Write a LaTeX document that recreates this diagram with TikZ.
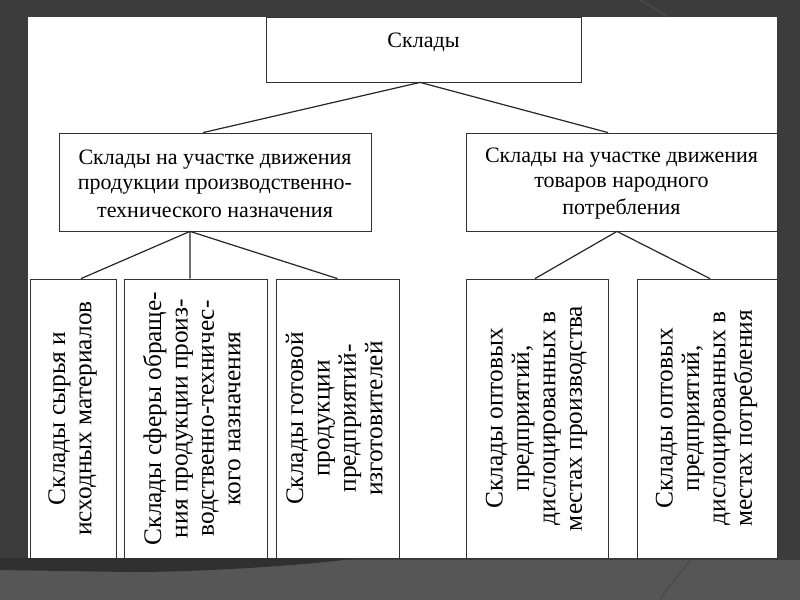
\documentclass[tikz,border=0pt]{standalone}
\usepackage{fontspec}
\setmainfont{Liberation Serif}
\definecolor{bgdark}{HTML}{3C3C3C}
\definecolor{bgband}{HTML}{565656}
\definecolor{bgdeep}{HTML}{303030}
\definecolor{bgline}{HTML}{4A4A4A}
\newcommand\vlns[1]{\begin{tabular}{@{}c@{}}#1\end{tabular}}
\begin{document}
\begin{tikzpicture}[x=0.75pt,y=-0.75pt,
  box/.style={draw=black!80, line width=0.6pt, fill=white, inner sep=0pt, anchor=center},
  hbox/.style={box, align=center, font=\fontsize{16.5}{20.6}\selectfont},
  vbox/.style={box, minimum height=209.25pt, font=\fontsize{19}{19.8}\selectfont},
  link/.style={draw=black!85, line width=0.9pt}]
\useasboundingbox (0,0) rectangle (800,600);
% slide background
\fill[bgdark] (0,0) rectangle (800,600);
\fill[bgband] (0,560) rectangle (800,600);
\fill[bgdeep] (0,558) -- (360,558) .. controls (300,566) and (200,572) .. (130,572) -- (0,570) -- cycle;
\draw[bgline, line width=1pt] (640,0) .. controls (655,8) and (662,14) .. (672,20);
\draw[bgline, line width=1pt] (690,560) .. controls (680,575) and (665,590) .. (660,600);
\fill[white] (28,17) rectangle (777,558);
% nodes
\node[box, minimum width=236.25pt, minimum height=48.75pt, font=\fontsize{16.5}{20.6}\selectfont] (top) at (423.5,49.5) {\raisebox{5.6pt}[0.7em][0.2em]{Склады}};
\node[hbox, minimum width=234pt, minimum height=73.5pt] (midL) at (215,182)
  {\raisebox{-2pt}[0.7em][0.2em]{Склады на участке движения}\\продукции производственно-\\технического назначения};
\node[hbox, minimum width=233.25pt, minimum height=73.5pt] (midR) at (621.5,182)
  {\raisebox{-2pt}[0.7em][0.2em]{Склады на участке движения}\\товаров народного\\потребления};
\node[vbox, minimum width=64.5pt] (b1) at (73,418.5)
  {\rotatebox{90}{\vlns{Склады сырья и\\исходных материалов}}};
\node[vbox, minimum width=107.25pt] (b2) at (195.5,418.5)
  {\rotatebox{90}{\vlns{Склады сферы обраще-\\ния продукции произ-\\водственно-техничес-\\кого назначения}}};
\node[vbox, minimum width=92.25pt] (b3) at (337.5,418.5)
  {\rotatebox{90}{\vlns{Склады готовой\\продукции\\предприятий-\\изготовителей}}};
\node[vbox, minimum width=106.5pt] (b4) at (537,418.5)
  {\rotatebox{90}{\vlns{Склады оптовых\\предприятий,\\дислоцированных в\\местах производства}}};
\node[vbox, minimum width=105pt] (b5) at (707,418.5)
  {\rotatebox{90}{\vlns{Склады оптовых\\предприятий,\\дислоцированных в\\местах потребления}}};
% connectors
\draw[link] ([xshift=-2.6pt]top.south) -- ([xshift=-9pt]midL.north);
\draw[link] ([xshift=-2.6pt]top.south) -- ([xshift=-10.1pt]midR.north);
\draw[link] ([xshift=-18.75pt]midL.south) -- ([xshift=6pt]b1.north);
\draw[link] ([xshift=-18.75pt]midL.south) -- ([xshift=-4.1pt]b2.north);
\draw[link] ([xshift=-18.75pt]midL.south) -- (b3.north);
\draw[link] ([xshift=-3.4pt]midR.south) -- ([xshift=-1.5pt]b4.north);
\draw[link] ([xshift=-3.4pt]midR.south) -- ([xshift=2.25pt]b5.north);
\end{tikzpicture}
\end{document}
